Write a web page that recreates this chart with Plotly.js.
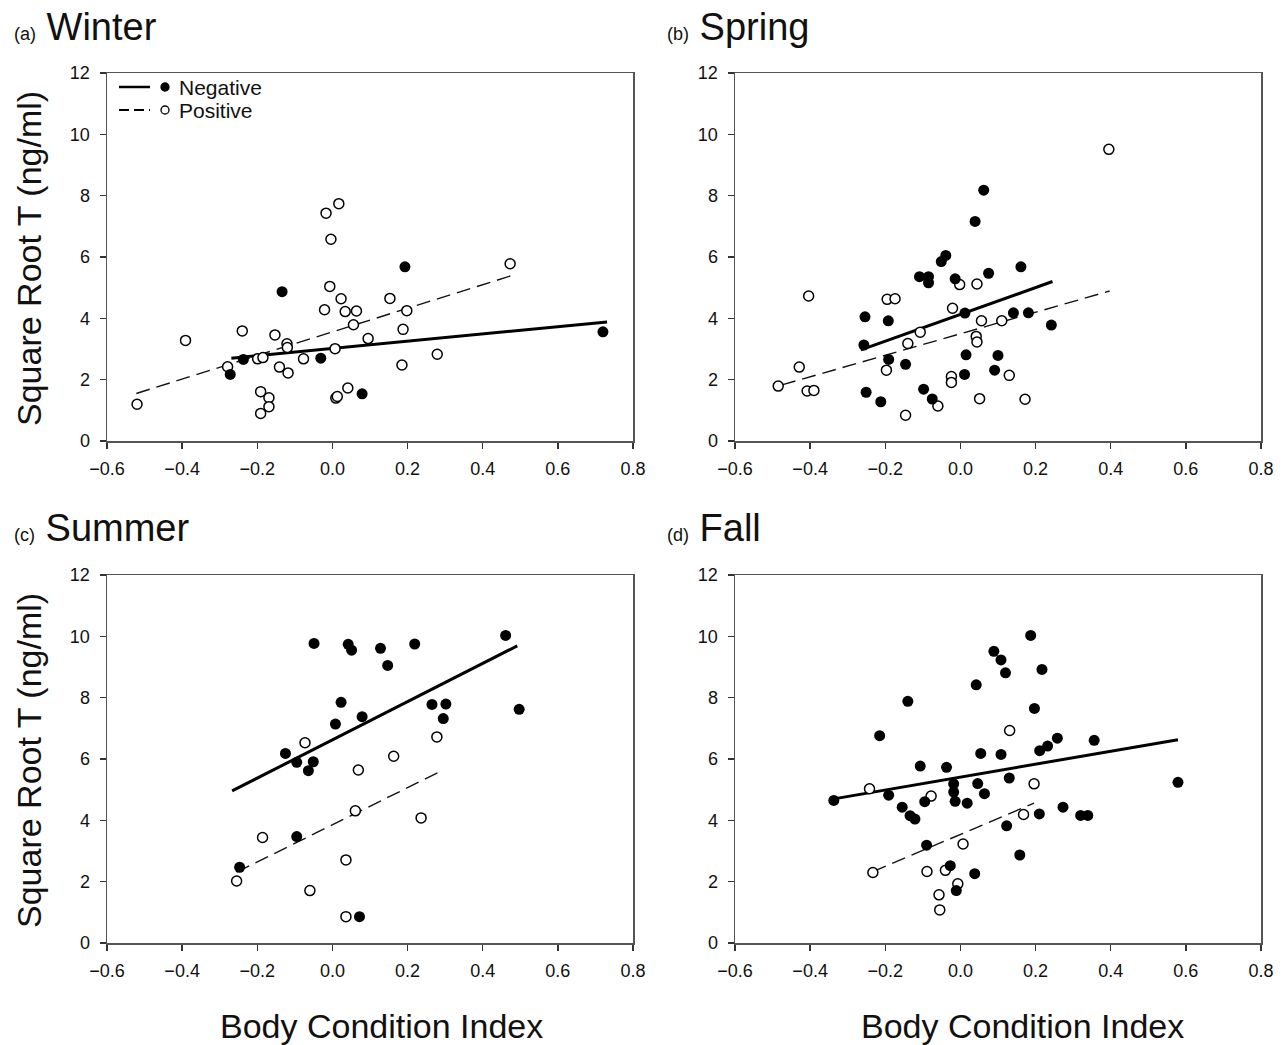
<!DOCTYPE html>
<html>
<head>
<meta charset="utf-8">
<script src="https://cdn.plot.ly/plotly-3.0.1.min.js"></script>
<style>html,body{margin:0;padding:0;background:#fff;}#chart{width:1285px;height:1045px;}</style>
</head>
<body>
<div id="chart"></div>
<script>
// ---------- DATA ----------
// (a) Winter
const winterNegX = [-0.272, -0.237, -0.134, -0.031, 0.079, 0.193, 0.720];
const winterNegY = [2.17, 2.66, 4.87, 2.70, 1.54, 5.68, 3.56];
const winterPosX = [-0.520, -0.391, -0.240, -0.279, -0.199, -0.185, -0.153, -0.121, -0.120, -0.141, -0.118, -0.077, -0.191, -0.169, -0.169, -0.191, -0.017, 0.017, -0.004, -0.007, -0.021, 0.023, 0.034, 0.064, 0.056, 0.095, 0.007, 0.009, 0.013, 0.041, 0.153, 0.198, 0.188, 0.185, 0.279, 0.473];
const winterPosY = [1.20, 3.28, 3.59, 2.42, 2.68, 2.72, 3.46, 3.17, 3.05, 2.41, 2.22, 2.68, 1.61, 1.41, 1.12, 0.90, 7.43, 7.74, 6.58, 5.04, 4.28, 4.64, 4.22, 4.24, 3.79, 3.34, 3.01, 1.40, 1.45, 1.73, 4.65, 4.25, 3.64, 2.48, 2.83, 5.78];
const winterNegFitX = [-0.269, 0.731];
const winterNegFitY = [2.70, 3.88];
const winterPosFitX = [-0.522, 0.476];
const winterPosFitY = [1.55, 5.39];

// (b) Spring
const springNegX = [-0.254, -0.257, -0.192, -0.191, -0.146, -0.251, -0.212, -0.109, -0.085, -0.085, -0.051, -0.039, -0.014, 0.012, 0.039, 0.062, 0.075, 0.015, 0.011, -0.098, -0.075, 0.100, 0.091, 0.161, 0.141, 0.181, 0.242];
const springNegY = [4.05, 3.13, 3.92, 2.66, 2.50, 1.59, 1.28, 5.36, 5.36, 5.16, 5.85, 6.05, 5.29, 4.17, 7.16, 8.18, 5.47, 2.81, 2.17, 1.69, 1.37, 2.79, 2.31, 5.68, 4.18, 4.18, 3.78];
const springPosX = [-0.485, -0.429, -0.408, -0.390, -0.404, -0.195, -0.174, -0.140, -0.107, -0.197, -0.146, -0.060, -0.024, -0.024, -0.021, -0.002, 0.044, 0.042, 0.044, 0.056, 0.051, 0.110, 0.130, 0.172, 0.395];
const springPosY = [1.79, 2.41, 1.63, 1.65, 4.73, 4.62, 4.64, 3.18, 3.55, 2.31, 0.84, 1.14, 2.10, 1.91, 4.33, 5.10, 5.12, 3.41, 3.23, 3.92, 1.38, 3.92, 2.14, 1.36, 9.51];
const springNegFitX = [-0.265, 0.245];
const springNegFitY = [2.97, 5.20];
const springPosFitX = [-0.475, 0.397];
const springPosFitY = [1.83, 4.89];

// (c) Summer
const summerNegX = [-0.049, 0.042, 0.051, 0.128, 0.023, 0.008, 0.079, -0.125, -0.095, -0.051, -0.064, -0.095, -0.247, 0.072, 0.147, 0.219, 0.461, 0.265, 0.302, 0.295, 0.497];
const summerNegY = [9.77, 9.74, 9.55, 9.61, 7.85, 7.14, 7.38, 6.18, 5.89, 5.91, 5.62, 3.47, 2.47, 0.86, 9.05, 9.75, 10.03, 7.78, 7.79, 7.32, 7.62];
const summerPosX = [-0.073, 0.069, 0.061, -0.186, -0.255, 0.036, -0.060, 0.036, 0.163, 0.278, 0.236];
const summerPosY = [6.53, 5.64, 4.31, 3.44, 2.02, 2.71, 1.71, 0.86, 6.09, 6.72, 4.08];
const summerNegFitX = [-0.267, 0.492];
const summerNegFitY = [4.96, 9.69];
const summerPosFitX = [-0.255, 0.280];
const summerPosFitY = [2.31, 5.55];

// (d) Fall
const fallNegX = [-0.337, -0.215, -0.140, -0.191, -0.107, -0.155, -0.134, -0.121, -0.095, -0.037, -0.018, -0.018, -0.014, 0.018, 0.046, 0.064, 0.054, 0.042, 0.089, 0.108, 0.120, 0.187, 0.217, 0.197, 0.108, 0.211, 0.232, 0.258, 0.356, 0.130, 0.579, 0.210, 0.273, 0.320, 0.339, 0.123, 0.158, -0.090, -0.027, -0.011, 0.038];
const fallNegY = [4.65, 6.76, 7.88, 4.82, 5.77, 4.43, 4.15, 4.04, 4.61, 5.73, 5.19, 4.92, 4.62, 4.56, 5.20, 4.87, 6.18, 8.42, 9.51, 9.23, 8.81, 10.03, 8.92, 7.65, 6.15, 6.27, 6.42, 6.68, 6.61, 5.38, 5.24, 4.21, 4.43, 4.16, 4.16, 3.82, 2.87, 3.19, 2.52, 1.71, 2.26];
const fallPosX = [-0.242, -0.078, 0.007, -0.233, -0.089, -0.040, -0.007, -0.057, -0.055, 0.131, 0.196, 0.168];
const fallPosY = [5.03, 4.79, 3.23, 2.30, 2.33, 2.37, 1.93, 1.57, 1.08, 6.93, 5.19, 4.19];
const fallNegFitX = [-0.337, 0.579];
const fallNegFitY = [4.70, 6.63];
const fallPosFitX = [-0.233, 0.196];
const fallPosFitY = [2.33, 4.56];

const panelLabels = ["(a)", "(b)", "(c)", "(d)"];
const panelNames = ["Winter", "Spring", "Summer", "Fall"];
const groupNames = ["Negative", "Positive"];
const xTickVals = [-0.6, -0.4, -0.2, 0.0, 0.2, 0.4, 0.6, 0.8];
const yTickVals = [0, 2, 4, 6, 8, 10, 12];
const xTitle = "Body Condition Index";
const yTitle = "Square Root T (ng/ml)";

// ---------- BUILD ----------
const W = 1285, H = 1045;
const FONT = "Liberation Sans, Arial, Helvetica, sans-serif";
const panels = [
  {negX: winterNegX, negY: winterNegY, posX: winterPosX, posY: winterPosY, nfx: winterNegFitX, nfy: winterNegFitY, pfx: winterPosFitX, pfy: winterPosFitY},
  {negX: springNegX, negY: springNegY, posX: springPosX, posY: springPosY, nfx: springNegFitX, nfy: springNegFitY, pfx: springPosFitX, pfy: springPosFitY},
  {negX: summerNegX, negY: summerNegY, posX: summerPosX, posY: summerPosY, nfx: summerNegFitX, nfy: summerNegFitY, pfx: summerPosFitX, pfy: summerPosFitY},
  {negX: fallNegX, negY: fallNegY, posX: fallPosX, posY: fallPosY, nfx: fallNegFitX, nfy: fallNegFitY, pfx: fallPosFitX, pfy: fallPosFitY}
];

// plot-area pixel boxes [left, top, right, bottom]
const boxes = [
  [107, 73, 633, 441],
  [735, 73, 1261, 441],
  [107, 575, 633, 943],
  [735, 575, 1261, 943]
];
const titlePos = [[12, 27], [665, 27], [12, 528], [665, 528]];

const traces = [];
const layout = {
  width: W, height: H,
  margin: {l: 0, r: 0, t: 0, b: 0},
  paper_bgcolor: "#ffffff",
  plot_bgcolor: "#ffffff",
  showlegend: false,
  font: {family: FONT, color: "#111"},
  annotations: [],
  shapes: []
};

panels.forEach((p, i) => {
  const n = i + 1;
  const xa = n === 1 ? "x" : "x" + n;
  const ya = n === 1 ? "y" : "y" + n;
  // regression lines
  traces.push({x: p.nfx, y: p.nfy, xaxis: xa, yaxis: ya, mode: "lines", type: "scatter",
    line: {color: "#000", width: 3}, name: groupNames[0] + " fit", hoverinfo: "skip"});
  traces.push({x: p.pfx, y: p.pfy, xaxis: xa, yaxis: ya, mode: "lines", type: "scatter",
    line: {color: "#111", width: 1.4, dash: "14px,7px"}, name: groupNames[1] + " fit", hoverinfo: "skip"});
  // points
  traces.push({x: p.posX, y: p.posY, xaxis: xa, yaxis: ya, mode: "markers", type: "scatter", name: groupNames[1],
    marker: {symbol: "circle", size: 10, color: "#ffffff", line: {color: "#000", width: 1.5}}});
  traces.push({x: p.negX, y: p.negY, xaxis: xa, yaxis: ya, mode: "markers", type: "scatter", name: groupNames[0],
    marker: {symbol: "circle", size: 11, color: "#000", line: {color: "#000", width: 0}}});

  const b = boxes[i];
  const axCommon = {
    showgrid: false, zeroline: false, showline: true, linecolor: "#555", linewidth: 1.5, mirror: true,
    ticks: "outside", ticklen: 6, tickwidth: 1.3, tickcolor: "#333",
    tickfont: {family: FONT, size: 18, color: "#111"}, fixedrange: true
  };
  layout["xaxis" + (n === 1 ? "" : n)] = Object.assign({}, axCommon, {
    domain: [b[0] / W, b[2] / W], anchor: ya, range: [-0.6, 0.8],
    tickvals: xTickVals, tickformat: ".1f", ticklabelstandoff: 5
  });
  layout["yaxis" + (n === 1 ? "" : n)] = Object.assign({}, axCommon, {
    domain: [1 - b[3] / H, 1 - b[1] / H], anchor: xa, range: [0, 12],
    tickvals: yTickVals, ticklabelstandoff: 6
  });

  // panel title
  layout.annotations.push({
    xref: "paper", yref: "paper", x: titlePos[i][0] / W, y: 1 - titlePos[i][1] / H,
    xanchor: "left", yanchor: "middle", showarrow: false,
    text: "<span style='font-size:18px'>" + panelLabels[i] + "</span> " + panelNames[i],
    font: {family: FONT, size: 38, color: "#111"}
  });
});

// axis titles
[0, 2].forEach(i => {
  const b = boxes[i];
  layout.annotations.push({
    xref: "paper", yref: "paper", x: 29 / W, y: 1 - ((b[1] + b[3]) / 2 + 2) / H,
    xanchor: "center", yanchor: "middle", textangle: -90, showarrow: false,
    text: yTitle, font: {family: FONT, size: 34, color: "#111"}
  });
});
[[2, 381], [3, 1023]].forEach(([i, cx]) => {
  layout.annotations.push({
    xref: "paper", yref: "paper", x: cx / W, y: 1 - 1026 / H,
    xanchor: "center", yanchor: "middle", showarrow: false,
    text: xTitle, font: {family: FONT, size: 34, color: "#111"}
  });
});

// legend in panel (a)
const lgRows = [{y: 87, dash: "solid", w: 2.5, fill: "#000", label: groupNames[0]},
                {y: 110, dash: "dash", w: 2, fill: "#fff", label: groupNames[1]}];
lgRows.forEach(r => {
  layout.shapes.push({type: "line", xref: "paper", yref: "paper",
    x0: 119 / W, x1: 150 / W, y0: 1 - r.y / H, y1: 1 - r.y / H,
    line: {color: "#000", width: r.w, dash: r.dash === "dash" ? "10px,5px" : "solid"}});
  layout.shapes.push({type: "circle", xref: "paper", yref: "paper",
    x0: 161 / W, x1: 169 / W, y0: 1 - (r.y + 4) / H, y1: 1 - (r.y - 4) / H,
    fillcolor: r.fill, line: {color: "#000", width: 1.3}});
  layout.annotations.push({xref: "paper", yref: "paper", x: 177 / W, y: 1 - r.y / H,
    xanchor: "left", yanchor: "middle", showarrow: false, text: r.label,
    font: {family: FONT, size: 21, color: "#111"}});
});

Plotly.newPlot("chart", traces, layout, {displayModeBar: false, staticPlot: true});
</script>
</body>
</html>
